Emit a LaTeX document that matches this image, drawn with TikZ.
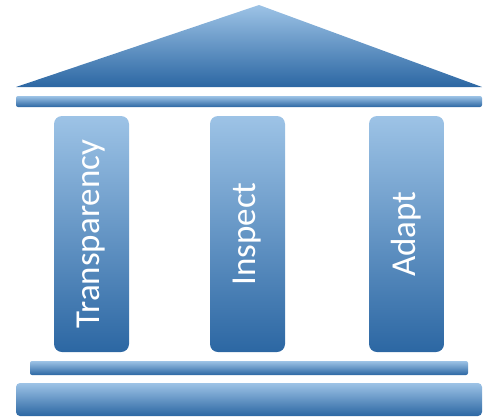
\documentclass[tikz,border=0pt]{standalone}
\usepackage{fontspec}
\setmainfont{Carlito}
\definecolor{lightblue}{RGB}{157,195,230}
\definecolor{midblue}{RGB}{98,158,214}
\definecolor{darkblue}{RGB}{44,103,163}
\begin{document}
\begin{tikzpicture}[x=1pt,y=-1pt,
    shade/.style={top color=lightblue,middle color=midblue,bottom color=darkblue},
    pillar/.style={shade,rounded corners=8pt,minimum width=75pt,minimum height=236pt,inner sep=0pt},
    word/.style={rotate=90,text=white,font=\fontsize{35}{35}\selectfont}]
  \useasboundingbox (0,0) rectangle (485,416);
  % roof
  \shade[shade] (16,87) -- (259,5) -- (482,87) -- cycle;
  \shade[shade,rounded corners=2pt] (16,96) rectangle (482,107);
  % pillars
  \node[pillar] (transp) at (91.5,234) {};
  \node[pillar] (insp) at (247.5,234) {};
  \node[pillar] (adapt) at (406.5,234) {};
  \node[word] (transptext) at (transp.center) {Transparency};
  \node[word] (insptext) at (insp.center) {Inspect};
  \node[word] (adapttext) at (adapt.center) {Adapt};
  % steps
  \shade[shade,rounded corners=2pt] (30,361) rectangle (468,375);
  \shade[shade,rounded corners=4pt] (16,383) rectangle (482,416);
\end{tikzpicture}
\end{document}
